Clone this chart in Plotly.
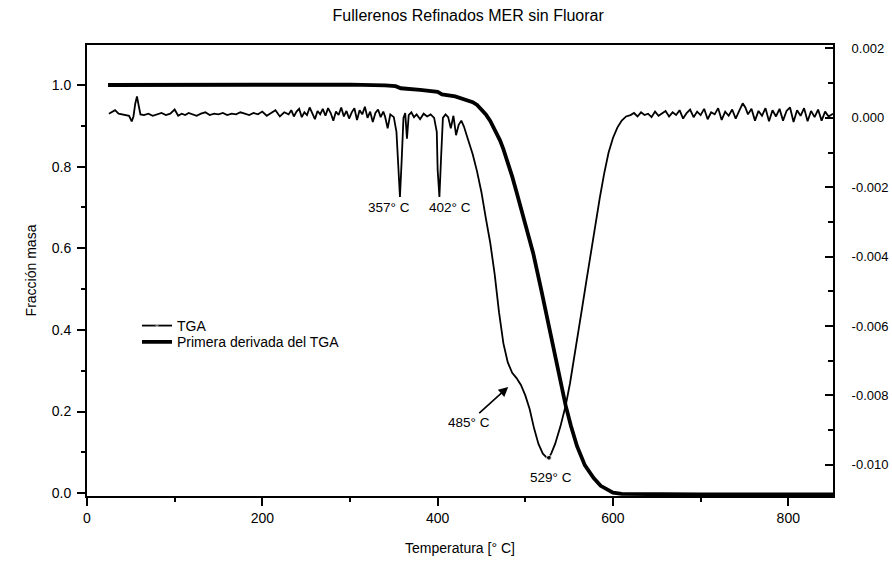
import plotly.graph_objects as go

# ---------------- data ----------------
# thick curve: mass fraction (left axis)
temp_mass = [24, 60, 100, 150, 200, 250, 300, 340, 352, 358,
             365, 380, 400, 405, 420, 430, 440, 445, 450, 455,
             460, 465, 471, 475, 480, 485, 490, 500, 509, 518,
             527, 536, 546, 552, 559, 568, 578, 586, 594, 600,
             610, 650, 700, 750, 800, 851]
mass_frac = [1.000, 1.000, 1.000, 1.001, 1.002, 1.002, 1.001, 0.999, 0.997, 0.992,
             0.990, 0.988, 0.983, 0.977, 0.972, 0.966, 0.958, 0.951, 0.941, 0.928,
             0.912, 0.892, 0.865, 0.843, 0.812, 0.776, 0.738, 0.660, 0.588, 0.500,
             0.405, 0.310, 0.215, 0.165, 0.115, 0.068, 0.037, 0.018, 0.007, 0.001,
             -0.002, -0.003, -0.003, -0.003, -0.003, -0.003]

# thin curve: derivative (right axis), in segments
temp_dtg_low = [25, 28, 32, 36, 40, 44, 48, 51, 53, 55,
                57, 59, 61, 65, 70, 75, 80, 85, 90, 95,
                100, 104, 108, 112, 116, 120, 125, 130, 135, 140,
                145, 150, 155, 160, 165, 170, 175, 180, 185, 190,
                195, 200, 205, 210, 215, 220, 225]
dtg_low = [0.00012, 0.00016, 0.00022, 0.00012, 0.00010, 0.00008, 0.00006, -0.00010, 0.00004, 0.00040,
           0.00062, 0.00035, 0.00010, 0.00008, 0.00012, 0.00006, 0.00010, 0.00014, 0.00008, 0.00012,
           0.00024, 0.00006, 0.00012, 0.00008, 0.00014, 0.00010, 0.00006, 0.00012, 0.00016, 0.00008,
           0.00012, 0.00010, 0.00014, 0.00008, 0.00012, 0.00010, 0.00016, 0.00012, 0.00008, 0.00014,
           0.00010, 0.00018, 0.00006, 0.00014, 0.00022, 0.00004, 0.00016]

temp_dtg_noisy = [230, 233, 236, 239, 242, 245, 248, 251, 254, 257,
                  260, 263, 266, 269, 272, 275, 278, 281, 284, 287,
                  290, 293, 296, 299, 302, 305, 308, 311, 314, 317,
                  320, 323, 326, 329, 332, 335, 338]
dtg_noisy = [0.00010, 0.00022, 0.00004, 0.00018, 0.00026, 0.00002, 0.00016, 0.00008, 0.00030, 0.00012,
             -0.00004, 0.00020, 0.00010, 0.00026, 0.00006, 0.00028, 0.00014, -0.00008, 0.00018, 0.00008,
             0.00030, 0.00004, 0.00020, -0.00002, 0.00016, 0.00028, -0.00006, 0.00022, 0.00010, 0.00032,
             0.00000, 0.00018, -0.00012, 0.00014, 0.00024, 0.00002, 0.00018]

temp_dtg_peaks = [340, 343, 346, 350, 353, 355, 357, 359, 361, 363,
                  365, 367, 370, 373, 376, 380, 384, 388, 392, 396,
                  399, 400, 402, 404, 406, 409, 412, 415, 418, 421,
                  424, 427, 430]
dtg_peaks = [0.00004, -0.00030, 0.00010, 0.00002, -0.00040, -0.00150, -0.00228, -0.00120, 0.00000, 0.00014,
             -0.00060, 0.00008, 0.00016, 0.00002, 0.00010, -0.00004, 0.00012, 0.00004, 0.00010, 0.00000,
             -0.00040, -0.00150, -0.00228, -0.00110, 0.00000, 0.00010, 0.00002, -0.00030, 0.00006, -0.00050,
             -0.00020, -0.00008, -0.00025]

temp_dtg_main = [435, 440, 445, 450, 455, 460, 465, 470, 475, 480,
                 485, 490, 495, 500, 505, 510, 515, 520, 524, 527,
                 530, 534, 540, 546, 551, 555, 560, 565, 570, 575,
                 580, 585, 590, 595, 600, 605, 610, 615]
dtg_main = [-0.00065, -0.00105, -0.00155, -0.00215, -0.00290, -0.00360, -0.00450, -0.00560, -0.00650, -0.00705,
            -0.00735, -0.00750, -0.00770, -0.00800, -0.00840, -0.00895, -0.00940, -0.00968, -0.00978, -0.00980,
            -0.00965, -0.00940, -0.00890, -0.00830, -0.00765, -0.00705, -0.00625, -0.00545, -0.00465, -0.00385,
            -0.00305, -0.00230, -0.00160, -0.00100, -0.00058, -0.00028, -0.00008, 0.00004]

temp_dtg_high = [620, 624, 628, 632, 636, 640, 644, 648, 652, 656,
                 660, 664, 668, 672, 676, 680, 684, 688, 692, 696,
                 700, 704, 708, 712, 716, 720, 724, 728, 732, 736,
                 740, 744, 748, 751, 754, 758, 762, 766, 770, 774,
                 778, 782, 786, 790, 794, 798, 802, 806, 810, 814,
                 818, 822, 826, 830, 834, 838, 842, 846, 851]
dtg_high = [0.00008, 0.00014, 0.00004, 0.00016, 0.00008, 0.00012, 0.00002, 0.00018, 0.00006, 0.00014,
            0.00020, 0.00004, 0.00016, 0.00008, 0.00022, -0.00002, 0.00014, 0.00024, 0.00002, 0.00018,
            0.00008, 0.00026, -0.00004, 0.00016, 0.00010, 0.00028, -0.00006, 0.00018, 0.00006, 0.00024,
            -0.00002, 0.00020, 0.00042, 0.00030, 0.00010, 0.00026, -0.00008, 0.00020, 0.00006, 0.00028,
            -0.00010, 0.00022, 0.00004, 0.00026, -0.00008, 0.00020, 0.00030, -0.00012, 0.00022, 0.00006,
            0.00028, -0.00010, 0.00020, 0.00002, 0.00024, -0.00008, 0.00018, 0.00004, 0.00012]

temp_dtg = temp_dtg_low + temp_dtg_noisy + temp_dtg_peaks + temp_dtg_main + temp_dtg_high
dtg_vals = dtg_low + dtg_noisy + dtg_peaks + dtg_main + dtg_high

marked_temps = [527]

# axis ticks
x_ticks = [0, 200, 400, 600, 800]
left_ticks = [0.0, 0.2, 0.4, 0.6, 0.8, 1.0]
right_ticks = [0.002, 0.000, -0.002, -0.004, -0.006, -0.008, -0.010]
right_ticktext = ["0.002", "0.000", "-0.002", "-0.004", "-0.006", "-0.008", "-0.010"]

# annotation labels (temperature, left-axis level)
peak_labels = ["357° C", "402° C", "529° C"]
peak_label_x = [344.7, 414.3, 529.5]
peak_label_y = [0.699, 0.701, 0.039]
arrow_label = "485° C"
arrow_tip = (480.5, 0.26)

assert len(temp_mass) == len(mass_frac)
assert len(temp_dtg) == len(dtg_vals)

FONT = "Liberation Sans, Arial, sans-serif"

fig = go.Figure()

fig.add_trace(go.Scatter(
    x=temp_dtg, y=dtg_vals, yaxis="y2", name="TGA", legend="legend",
    mode="lines+markers",
    line=dict(color="black", width=1.8),
    marker=dict(color="black", size=[5 if t in marked_temps else 0 for t in temp_dtg]),
))
fig.add_trace(go.Scatter(
    x=temp_mass, y=mass_frac, yaxis="y", name="Primera derivada del TGA", legend="legend2",
    mode="lines",
    line=dict(color="black", width=3.8),
))

annotations = []
for txt, ax_, ay_ in zip(peak_labels, peak_label_x, peak_label_y):
    annotations.append(dict(x=ax_, y=ay_, xref="x", yref="y", text=txt, showarrow=False,
                            font=dict(family=FONT, size=13.5, color="black")))
annotations.append(dict(x=arrow_tip[0], y=arrow_tip[1], xref="x", yref="y", text=arrow_label,
                        showarrow=True, ax=-39, ay=35, arrowhead=2, arrowsize=1.2, arrowwidth=1.6,
                        arrowcolor="black", font=dict(family=FONT, size=13.5, color="black")))

legend_common = dict(xanchor="left", yanchor="middle", bgcolor="rgba(0,0,0,0)",
                     font=dict(family=FONT, size=14, color="black"))

fig.update_layout(
    width=892, height=566,
    margin=dict(l=87, r=59, t=45, b=70),
    paper_bgcolor="white", plot_bgcolor="white",
    font=dict(family=FONT, size=14, color="black"),
    title=dict(text="Fullerenos Refinados MER sin Fluorar", x=0.511, xref="paper", xanchor="center",
               y=0.972, yref="container", yanchor="middle",
               font=dict(family=FONT, size=16, color="black")),
    showlegend=True,
    legend=dict(x=0.067, y=0.377, **legend_common),
    legend2=dict(x=0.067, y=0.341, **legend_common),
    annotations=annotations,
    xaxis=dict(range=[0, 851], tickvals=x_ticks, ticks="outside", ticklen=8, tickwidth=2,
               tickcolor="black", showline=True, linewidth=2, linecolor="black", mirror=True,
               showgrid=False, zeroline=False, automargin=False,
               minor=dict(dtick=100, tick0=0, ticks="outside", ticklen=4, tickwidth=1.5, tickcolor="black"),
               title=dict(text="Temperatura [° C]", standoff=18, font=dict(family=FONT, size=14)),
               tickfont=dict(family=FONT, size=14)),
    yaxis=dict(range=[-0.007, 1.098], tickvals=left_ticks, tickformat=".1f", ticks="outside",
               ticklen=8, tickwidth=2, tickcolor="black", showline=True, linewidth=2, linecolor="black",
               showgrid=False, zeroline=False, ticklabelstandoff=3, automargin=False,
               minor=dict(dtick=0.1, tick0=0, ticks="outside", ticklen=4, tickwidth=1.5, tickcolor="black"),
               title=dict(text="Fracción masa", standoff=12, font=dict(family=FONT, size=14)),
               tickfont=dict(family=FONT, size=14)),
    yaxis2=dict(range=[-0.0109, 0.0021], overlaying="y", side="right", tickvals=right_ticks,
                ticktext=right_ticktext, ticks="inside", ticklen=8, tickwidth=2, tickcolor="black",
                showline=True, linewidth=2, linecolor="black", showgrid=False, zeroline=False,
                ticklabelstandoff=14, automargin=False,
                minor=dict(dtick=0.001, tick0=0, ticks="inside", ticklen=5, tickwidth=1.5, tickcolor="black"),
                tickfont=dict(family=FONT, size=13)),
)

fig.write_html("out.html")
